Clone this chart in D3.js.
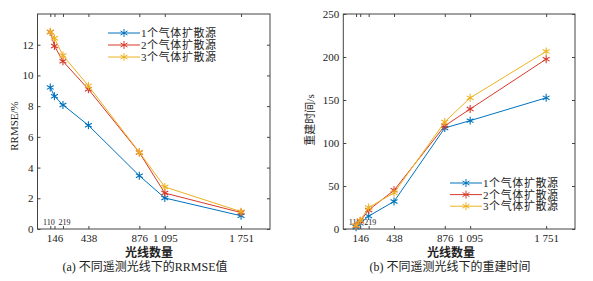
<!DOCTYPE html>
<html>
<head>
<meta charset="utf-8">
<script src="https://cdn.jsdelivr.net/npm/d3@7"></script>
<style>
    body { margin: 0; background: #fff; }
    text { font-family: "Liberation Serif", "Noto Sans CJK SC", serif; }
</style>
</head>
<body>
<svg id="chart" width="593" height="281"></svg>
<script>
// ray counts (x) and the measured values per number of gas sources
const rayCounts = [110, 146, 219, 438, 876, 1095, 1751];
const labelledTicks = [146, 438, 876, 1095, 1751];
const innerTickLabels = [110, 219];

const rrmse1 = [9.22, 8.65, 8.08, 6.75, 3.47, 2.02, 0.86];
const rrmse2 = [12.82, 11.92, 10.92, 9.10, 4.98, 2.34, 1.07];
const rrmse3 = [12.85, 12.42, 11.30, 9.32, 5.00, 2.74, 1.13];

const time1 = [2, 6.5, 15, 32, 117.5, 126, 152.5];
const time2 = [3.5, 9, 22, 45, 120, 139.5, 197.5];
const time3 = [4, 10, 25, 42, 124.5, 152.5, 206.5];

const seriesNames = ["1个气体扩散源", "2个气体扩散源", "3个气体扩散源"];
const colors = ["#0072BD", "#D63A2A", "#EDB120"];

const svg = d3.select("#chart");
const fmt = d3.formatLocale({ decimal: ".", thousands: " ", grouping: [3], currency: ["", ""] }).format(",");

const drawPanel = (p) => {
    const x = d3.scaleLinear().domain([0, 2000]).range([p.left, p.right]);
    const y = d3.scaleLinear().domain(p.yDomain).range([p.bottom, p.top]);
    const g = svg.append("g");

    // box
    g.append("rect")
        .attr("x", p.left).attr("y", p.top)
        .attr("width", p.right - p.left).attr("height", p.bottom - p.top)
        .attr("fill", "none").attr("stroke", "#444").attr("stroke-width", 1);

    // bottom axis, ticks pointing inward
    const xa = g.append("g")
        .attr("transform", `translate(0, ${p.bottom})`)
        .call(d3.axisBottom(x).tickValues(rayCounts).tickSizeInner(-3).tickSizeOuter(0)
            .tickPadding(5)
            .tickFormat(d => labelledTicks.includes(d) ? fmt(d) : ""));
    // top mirror ticks
    const xt = g.append("g")
        .attr("transform", `translate(0, ${p.top})`)
        .call(d3.axisTop(x).tickValues(rayCounts).tickSizeInner(-3).tickSizeOuter(0).tickFormat(""));

    const ya = g.append("g")
        .attr("transform", `translate(${p.left}, 0)`)
        .call(d3.axisLeft(y).tickValues(p.yTicks).tickSizeInner(-3).tickSizeOuter(0).tickPadding(4));
    const yr = g.append("g")
        .attr("transform", `translate(${p.right}, 0)`)
        .call(d3.axisRight(y).tickValues(p.yTicks).tickSizeInner(-3).tickSizeOuter(0).tickFormat(""));

    [xa, xt, ya, yr].forEach(a => {
        a.select(".domain").remove();
        a.selectAll("line").attr("stroke", "#444");
        a.selectAll("text").attr("font-size", 11).attr("fill", "#222")
            .attr("font-family", "Liberation Serif, serif");
    });

    // small labels for the crowded ticks
    g.selectAll(".inner-lbl")
        .data(innerTickLabels)
        .enter()
        .append("text")
        .attr("x", (d, i) => x(d) + (i === 0 ? -1.5 : 1.5))
        .attr("y", p.bottom - 4)
        .attr("text-anchor", "middle")
        .attr("font-size", 8)
        .attr("fill", "#222")
        .text(d => d);

    // lines + asterisk markers
    const line = d3.line().x((d, i) => x(rayCounts[i])).y(d => y(d));
    const marker = d3.symbol().type(d3.symbolAsterisk).size(44);

    p.series.forEach((vals, k) => {
        g.append("path")
            .attr("d", line(vals))
            .attr("fill", "none")
            .attr("stroke", colors[k])
            .attr("stroke-width", 1);
        g.selectAll(null)
            .data(vals)
            .enter()
            .append("path")
            .attr("d", marker)
            .attr("transform", (d, i) => `translate(${x(rayCounts[i])}, ${y(d)})`)
            .attr("fill", "none")
            .attr("stroke", colors[k])
            .attr("stroke-width", 1.1);
    });

    // legend (no box)
    seriesNames.forEach((name, k) => {
        const ly = p.legendY + k * p.legendStep;
        g.append("line")
            .attr("x1", p.legendX).attr("x2", p.legendX + 32)
            .attr("y1", ly).attr("y2", ly)
            .attr("stroke", colors[k]).attr("stroke-width", 1);
        g.append("path")
            .attr("d", marker)
            .attr("transform", `translate(${p.legendX + 16}, ${ly})`)
            .attr("fill", "none").attr("stroke", colors[k]);
        g.append("text")
            .attr("x", p.legendX + 33).attr("y", ly)
            .attr("dy", "0.36em")
            .attr("font-size", 11)
            .attr("letter-spacing", 0.6)
            .attr("fill", "#222")
            .text(name);
    });

    // axis titles
    g.append("text")
        .attr("transform", `translate(${p.yLabelX}, ${p.yLabelY}) rotate(-90)`)
        .attr("text-anchor", "middle")
        .attr("font-size", 11)
        .attr("fill", "#222")
        .text(p.yLabel);

    g.append("text")
        .attr("x", p.xLabelX).attr("y", 257)
        .attr("text-anchor", "middle")
        .attr("font-size", 12)
        .attr("font-weight", "bold")
        .attr("fill", "#222")
        .text("光线数量");

    g.append("text")
        .attr("x", p.captionX).attr("y", 271)
        .attr("text-anchor", "middle")
        .attr("font-size", 12)
        .attr("fill", "#222")
        .text(p.caption);
};

drawPanel({
    left: 37.5, right: 270, top: 14, bottom: 229,
    yDomain: [0, 14], yTicks: [0, 2, 4, 6, 8, 10, 12],
    series: [rrmse1, rrmse2, rrmse3],
    legendX: 108, legendY: 33, legendStep: 12,
    yLabel: "RRMSE/%", yLabelX: 18, yLabelY: 126,
    xLabelX: 149, captionX: 145,
    caption: "(a) 不同遥测光线下的RRMSE值"
});

drawPanel({
    left: 343.3, right: 575, top: 14, bottom: 229,
    yDomain: [0, 250], yTicks: [0, 50, 100, 150, 200, 250],
    series: [time1, time2, time3],
    legendX: 450, legendY: 183, legendStep: 11.6,
    yLabel: "重建时间/s", yLabelX: 314, yLabelY: 120,
    xLabelX: 451, captionX: 450,
    caption: "(b) 不同遥测光线下的重建时间"
});
</script>
</body>
</html>
